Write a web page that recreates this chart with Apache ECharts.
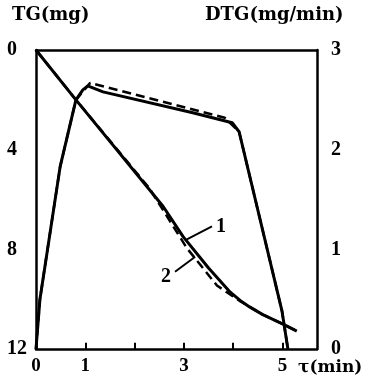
<!DOCTYPE html>
<html>
<head>
<meta charset="utf-8">
<script src="https://cdn.jsdelivr.net/npm/echarts@6/dist/echarts.min.js"></script>
<style>html,body{margin:0;padding:0;background:#fff;}#c{width:381px;height:376px;}</style>
</head>
<body>
<div id="c"></div>
<script>
// ---- data ----
const xLabels = [0, 1, 3, 5];          // tick labels shown on the time axis
const xTicks = [1, 2, 3, 4, 5];        // tick marks on the time axis
const tgLabels = [0, 4, 8, 12];        // left axis tick labels (mg)
const dtgLabels = [0, 1, 2, 3];        // right axis tick labels (mg/min)
const xName = 'τ(min)';
const tgName = 'TG(mg)';
const dtgName = 'DTG(mg/min)';

// curve 1 (solid) and curve 2 (dashed): [time, value]
const tg1 = [[0,0],[0.81,2.0],[2.58,6.28],[2.98,7.48],[3.5,8.75],[3.94,9.72],[4.14,10.05],[4.34,10.32],[4.6,10.62],[5.01,11.0],[5.29,11.28]];
const tg2 = [[0,0],[0.81,2.0],[2.3,5.55],[3.06,7.95],[3.67,9.45],[4.14,10.08],[4.6,10.62],[5.01,11.0],[5.29,11.28]];
const dtg1 = [[0,0],[0.08,0.5],[0.49,1.83],[0.81,2.5],[0.95,2.6],[1.05,2.64],[1.36,2.58],[3.18,2.37],[3.98,2.27],[4.12,2.18],[4.99,0.38],[5.11,0]];
const dtg2 = [[0,0],[0.08,0.5],[0.49,1.83],[0.81,2.5],[1.1,2.67],[3.83,2.32],[4.12,2.18],[4.99,0.38],[5.11,0]];

// curve labels with leader lines (on TG axis)
const lead1 = [[3.06,7.6],[3.57,7.08]];
const lead2 = [[3.23,8.3],[2.82,8.9]];
const curveNames = ['1', '2'];

const serif = 'Liberation Serif';
const serif2 = 'DejaVu Serif';
const black = '#000';
const TG_MAX = 12;
const TICK_LEN = 0.25; // tick length in TG units (inside the frame)

const chart = echarts.init(document.getElementById('c'), null, {renderer: 'canvas'});

function leader(data, name, pos, off) {
  return {
    type: 'line', yAxisIndex: 0, silent: true,
    symbol: 'circle', symbolSize: 0, showSymbol: true,
    lineStyle: {color: black, width: 2},
    itemStyle: {color: black},
    data: data.map((p, i) => i === data.length - 1 ? {
      value: p,
      label: {show: true, position: pos, distance: 4, offset: off, formatter: name,
        fontFamily: serif, fontWeight: 'bold', fontSize: 20, color: black}
    } : {value: p}),
    z: 5
  };
}

chart.setOption({
  animation: false,
  backgroundColor: '#fff',
  title: [
    {text: tgName, left: 12, top: 6, padding: 0,
      textStyle: {fontFamily: serif2, fontWeight: 'bold', fontSize: 18, color: black}},
    {text: dtgName, left: 205, top: 6, padding: 0,
      textStyle: {fontFamily: serif2, fontWeight: 'bold', fontSize: 18, color: black}}
  ],
  grid: {left: 36, right: 64, top: 50, bottom: 26, show: false},
  xAxis: [{
    type: 'value', min: 0, max: 5.7, interval: 1, position: 'bottom',
    name: xName, nameLocation: 'end', nameGap: -19,
    nameTextStyle: {fontFamily: serif2, fontWeight: 'bold', fontSize: 17, color: black,
      align: 'left', verticalAlign: 'top', padding: [10, 0, 0, 0]},
    axisLine: {show: true, onZero: false, lineStyle: {color: black, width: 2.5}},
    axisTick: {show: false},
    axisLabel: {
      show: true, customValues: xLabels,
      margin: 8, fontFamily: serif, fontWeight: 'bold', fontSize: 19, color: black
    },
    splitLine: {show: false}
  }, {
    type: 'value', min: 0, max: 5.7, interval: 1, position: 'top',
    axisLine: {show: true, onZero: false, lineStyle: {color: black, width: 2.5}},
    axisTick: {show: false}, axisLabel: {show: false}, splitLine: {show: false}
  }],
  yAxis: [
    {
      type: 'value', inverse: true, min: 0, max: TG_MAX, interval: 4, position: 'left',
      axisLine: {show: true, onZero: false, lineStyle: {color: black, width: 2.5}},
      axisTick: {show: false},
      axisLabel: {customValues: tgLabels, margin: 29, align: 'left',
        fontFamily: serif, fontWeight: 'bold', fontSize: 20, color: black},
      splitLine: {show: false}
    },
    {
      type: 'value', min: 0, max: 3, interval: 1, position: 'right',
      axisLine: {show: true, onZero: false, lineStyle: {color: black, width: 2.5}},
      axisTick: {show: false},
      axisLabel: {customValues: dtgLabels, margin: 14, align: 'left',
        fontFamily: serif, fontWeight: 'bold', fontSize: 20, color: black},
      splitLine: {show: false}
    }
  ],
  series: [
    {type: 'line', name: 'TG1', yAxisIndex: 0, data: tg1, showSymbol: false, symbol: 'none',
      lineStyle: {color: black, width: 3},
      markLine: {
        silent: true, symbol: 'none', animation: false,
        label: {show: false},
        lineStyle: {color: black, width: 2, type: 'solid'},
        data: xTicks.map(v => [{coord: [v, TG_MAX]}, {coord: [v, TG_MAX - TICK_LEN]}])
      }},
    {type: 'line', name: 'TG2', yAxisIndex: 0, data: tg2, showSymbol: false, symbol: 'none',
      lineStyle: {color: black, width: 2.5, type: [9, 5]}},
    {type: 'line', name: 'DTG1', yAxisIndex: 1, data: dtg1, showSymbol: false, symbol: 'none',
      lineStyle: {color: black, width: 3}},
    {type: 'line', name: 'DTG2', yAxisIndex: 1, data: dtg2, showSymbol: false, symbol: 'none',
      lineStyle: {color: black, width: 2.5, type: [9, 5]}},
    leader(lead1, curveNames[0], 'right', [0, 0]),
    leader(lead2, curveNames[1], 'left', [0, 5])
  ]
});
</script>
</body>
</html>
